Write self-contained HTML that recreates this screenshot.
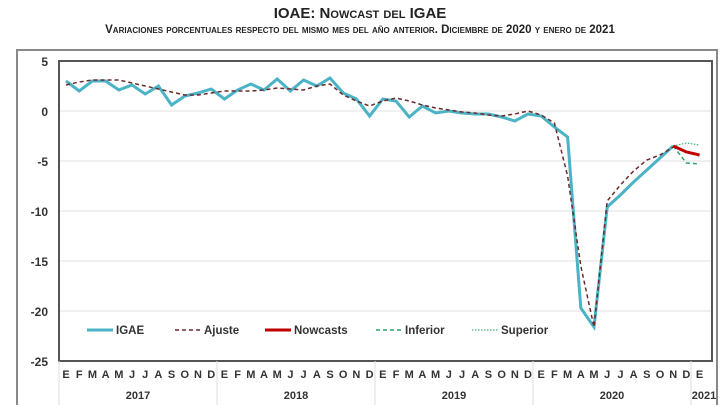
<!DOCTYPE html>
<html><head><meta charset="utf-8"><style>
body{margin:0;background:#fff;width:720px;height:405px;overflow:hidden;font-family:"Liberation Sans",Arial,sans-serif}
.t{position:absolute;left:0;width:720px;text-align:center;font-weight:bold;color:#222}
</style></head><body>
<div class="t" style="top:5px;font-size:15px;font-variant:small-caps">IOAE: Nowcast del IGAE</div>
<div class="t" style="top:24px;font-size:11.5px;font-variant:small-caps">Variaciones porcentuales respecto del mismo mes del año anterior. Diciembre de 2020 y enero de 2021</div>
<svg id="c" width="720" height="405" style="position:absolute;left:0;top:0"></svg>
<script>
const months=["E","F","M","A","M","J","J","A","S","O","N","D"];
const years=["2017","2018","2019","2020","2021"];
const yTicks=[5,0,-5,-10,-15,-20,-25];
const igae=[3.0,2.0,3.0,3.0,2.1,2.6,1.7,2.5,0.6,1.5,1.8,2.2,
1.2,2.1,2.7,2.1,3.2,2.0,3.1,2.5,3.3,1.8,1.2,-0.5,
1.2,1.0,-0.6,0.5,-0.2,0.0,-0.2,-0.3,-0.3,-0.6,-1.0,-0.3,
-0.5,-1.6,-2.6,-19.7,-21.6,-9.6,-8.4,-7.1,-5.9,-4.7,-3.5];
const ajuste=[2.6,2.9,3.1,3.1,3.1,2.8,2.5,2.2,1.9,1.6,1.6,1.8,
2.0,2.0,2.0,2.1,2.3,2.2,2.1,2.5,2.7,1.6,1.0,0.5,
1.0,1.3,1.0,0.6,0.3,0.1,-0.1,-0.2,-0.4,-0.5,-0.3,0.0,
-0.4,-1.2,-6.5,-15.5,-21.6,-9.0,-7.4,-6.0,-4.9,-4.4,-3.6];
const nowcast=[-3.5,-4.1,-4.4];
const inferior=[-3.5,-5.2,-5.3];
const superior=[-3.5,-3.2,-3.4];
const svg=document.getElementById('c'),NS='http://www.w3.org/2000/svg';
const L=59,R=712,T=61,B=361;
const x=i=>66+13.2*i;
const y=v=>T+(5-v)*(B-T)/30;
function el(t,a,p){const e=document.createElementNS(NS,t);for(const k in a)e.setAttribute(k,a[k]);(p||svg).appendChild(e);return e;}
let e=el('rect',{x:17,y:50,width:700,height:370,fill:'none',stroke:'#888','stroke-width':2});


yTicks.forEach(v=>{
 if(v!==5&&v!==-25){let g=el('line',{x1:L,x2:R,y1:y(v),y2:y(v),stroke:'#e0e0e0'});
 
 }
 let t=el('text',{x:48,y:y(v)+5,'text-anchor':'end','font-size':12,'font-weight':'bold',fill:'#333'});t.textContent=v;
 
 
});
e=el('rect',{x:L,y:T,width:R-L,height:B-T,fill:'none',stroke:'#555','stroke-width':2});


for(let i=0;i<49;i++){
 let t=el('text',{x:x(i),y:378,'text-anchor':'middle','font-size':11,'font-weight':'bold',fill:'#333'});t.textContent=months[i%12];
 
 
}
years.forEach((yr,k)=>{
 const x0=L+158*k,x1=Math.min(L+158*(k+1),R+8);
 let d=el('line',{x1:x0,x2:x0,y1:B,y2:405,stroke:'#ddd'});
 
 
 let t=el('text',{x:k<4?(x0+x1)/2:704,y:399,'text-anchor':'middle','font-size':11,'font-weight':'bold',fill:'#333'});t.textContent=yr;
 
 
});
function path(arr,off,attrs,name){
 const d=arr.map((v,i)=>(i?'L':'M')+x(i+off)+' '+y(v)).join(' ');
 let p=el('path',Object.assign({d,fill:'none'},attrs));
 
 
}
path(igae,0,{stroke:'#4bb3c6','stroke-width':3},'igae-line');
path(ajuste,0,{stroke:'#6b2a2a','stroke-width':1.5,'stroke-dasharray':'4,3'},'ajuste-line');
path(inferior,46,{stroke:'#2aa56a','stroke-width':1.5,'stroke-dasharray':'4,3'},'inferior-line');
path(superior,46,{stroke:'#3cb878','stroke-width':1.3,'stroke-dasharray':'1.5,1.5'},'superior-line');
path(nowcast,46,{stroke:'#c00000','stroke-width':3},'nowcast-line');
const leg=[["IGAE",87,'#4bb3c6',3,''],["Ajuste",175,'#6b2a2a',1.5,'4,3'],["Nowcasts",265,'#c00000',3,''],["Inferior",376,'#2aa56a',1.5,'4,3'],["Superior",472,'#3cb878',1.3,'1.5,1.5']];
leg.forEach(l=>{
 let g=el('g',{});
 
 
 el('line',{x1:l[1],x2:l[1]+26,y1:330,y2:330,stroke:l[2],'stroke-width':l[3],'stroke-dasharray':l[4]},g);
 let t=el('text',{x:l[1]+29,y:334,'font-size':11.5,'font-weight':'bold',fill:'#333'},g);t.textContent=l[0];
});
</script>
</body></html>
